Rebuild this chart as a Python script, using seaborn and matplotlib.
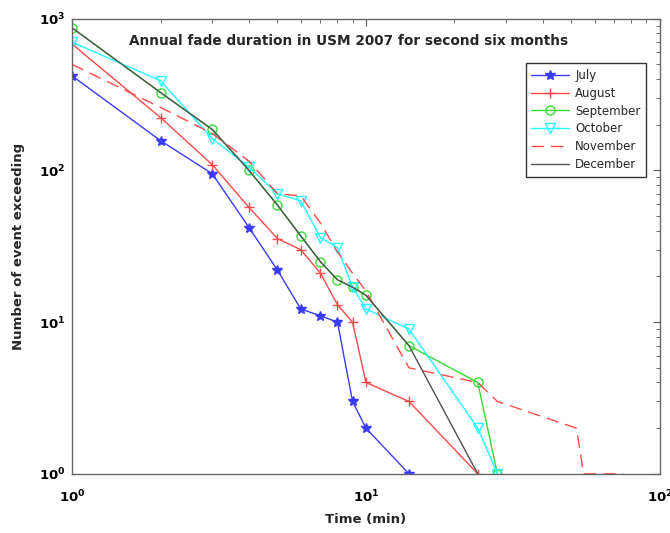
import matplotlib
matplotlib.use("Agg")
import matplotlib.pyplot as plt
import seaborn as sns
import pandas as pd
from matplotlib.ticker import LogLocator, NullFormatter

sns.set_theme(style="white")
plt.rcParams['font.family'] = ['DejaVu Sans']

july_x = [1, 2, 3, 4, 5, 6, 7, 8, 9, 10, 14]
july_y = [420, 157, 95, 42, 22, 12.2, 11, 10, 3, 2, 1]

august_x = [1, 2, 3, 4, 5, 6, 7, 8, 9, 10, 14, 24]
august_y = [680, 223, 109, 57, 35.5, 30, 21, 13, 10, 4, 3, 1]

september_x = [1, 2, 3, 4, 5, 6, 7, 8, 9, 10, 14, 24, 28]
september_y = [870, 326, 186, 100, 59, 37, 25, 19, 17, 15, 7, 4, 1]

october_x = [1, 2, 3, 4, 5, 6, 7, 8, 9, 10, 14, 24, 28]
october_y = [700, 390, 162, 105, 70, 63, 36, 31, 17, 12.2, 9, 2, 1]

november_x = [1, 2, 3, 4, 5, 6, 7, 8, 9, 10, 14, 24, 28, 52, 55, 75]
november_y = [500, 260, 175, 115, 70, 68, 45, 29, 21, 16, 5, 4, 3, 2, 1, 1]

december_x = [1, 2, 3, 4, 5, 6, 7, 8, 9, 10, 14, 24]
december_y = [870, 326, 186, 100, 59, 37, 25, 19, 17, 15, 7, 1]

series = [
    ("July", july_x, july_y, "#3b3bff", "*", "-"),
    ("August", august_x, august_y, "#ff4a4a", "+", "-"),
    ("September", september_x, september_y, "#33dd33", "o", "-"),
    ("October", october_x, october_y, "#22ffff", "v", "-"),
    ("November", november_x, november_y, "#ff4a4a", None, (0, (9, 5))),
    ("December", december_x, december_y, "#505050", None, "-"),
]

fig = plt.figure(figsize=(6.7, 5.33), dpi=100)
ax = fig.add_axes([0.1075, 0.111, 0.8775, 0.854])

for name, xs, ys, col, mk, ls in series:
    df = pd.DataFrame({"x": xs, "y": ys})
    kw = dict(marker=mk, markersize=6.5 if mk in ("o", "v") else 7,
              markerfacecolor="none" if mk in ("o", "v") else col,
              markeredgecolor=col, markeredgewidth=1.0) if mk else {}
    sns.lineplot(data=df, x="x", y="y", ax=ax, color=col, linewidth=1.0,
                 linestyle=ls, label=name, estimator=None, sort=False, **kw)

ax.set_xscale("log")
ax.set_yscale("log")
ax.set_xlim(1, 100)
ax.set_ylim(1, 1000)

ax.xaxis.set_minor_locator(LogLocator(base=10, subs=range(2, 10)))
ax.yaxis.set_minor_locator(LogLocator(base=10, subs=range(2, 10)))
ax.xaxis.set_minor_formatter(NullFormatter())
ax.yaxis.set_minor_formatter(NullFormatter())
ax.tick_params(which="both", direction="in", top=True, right=True,
               colors="#555555", labelcolor="black")
ax.tick_params(which="major", length=5, width=0.8, labelsize=9.5)
ax.tick_params(which="minor", length=3, width=0.6)
ax.tick_params(axis="x", which="major", pad=11)
ax.tick_params(axis="y", which="major", pad=5)
for lab in ax.get_xticklabels() + ax.get_yticklabels():
    lab.set_fontweight("bold")
for sp in ax.spines.values():
    sp.set_color("#666666")
    sp.set_linewidth(1.0)

ax.set_xlabel("Time (min)", fontsize=9.5, fontweight="bold", labelpad=5)
ax.set_ylabel("Number of event exceeding", fontsize=9.5, fontweight="bold", labelpad=10)
ax.text(0.47, 0.952, "Annual fade duration in USM 2007 for second six months",
        transform=ax.transAxes, ha="center", va="center",
        fontsize=9.8, fontweight="bold")

leg = ax.legend(loc="upper right", bbox_to_anchor=(0.987, 0.915), fontsize=8.5,
                frameon=True, fancybox=False, edgecolor="black",
                handlelength=3.2, borderpad=0.5, labelspacing=0.4,
                handletextpad=0.5)
leg.get_frame().set_linewidth(1.0)

fig.savefig("out.png", dpi=100, facecolor="white")
